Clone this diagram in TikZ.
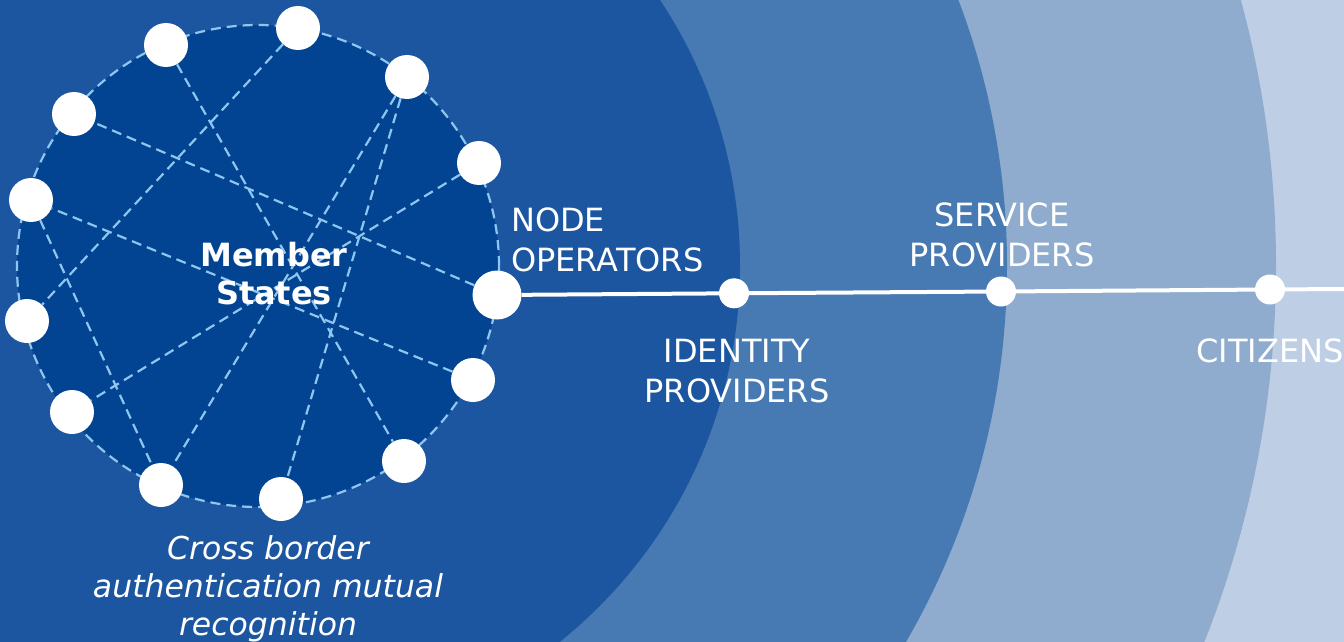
\documentclass[tikz,border=0pt]{standalone}
\usepackage{fontspec}
\setmainfont{DejaVu Sans}
\definecolor{bandA}{HTML}{1C56A0}
\definecolor{bandB}{HTML}{4779B2}
\definecolor{bandC}{HTML}{8FACCF}
\definecolor{bandD}{HTML}{BECEE4}
\definecolor{msfill}{HTML}{024491}
\definecolor{dashblue}{HTML}{8EC6F0}
\begin{document}
\begin{tikzpicture}[x=1pt,y=-1pt,
  ringdot/.style={circle,fill=white,inner sep=0pt,minimum size=44pt},
  bigdot/.style={circle,fill=white,inner sep=0pt,minimum size=49pt},
  linedot/.style={circle,fill=white,inner sep=0pt,minimum size=30pt},
  chord/.style={draw=dashblue,line width=2.2pt,dash pattern=on 10pt off 6pt},
  wline/.style={draw=white,line width=4pt},
  lbl/.style={text=white,inner sep=0pt,align=center,font=\fontsize{32}{39.5}\selectfont},
  lblleft/.style={lbl,align=left,anchor=north west},
  boldlbl/.style={lbl,font=\fontsize{32}{38}\selectfont\bfseries},
  itlbl/.style={lbl,font=\fontsize{31.5}{38}\selectfont\itshape}
]
\useasboundingbox (0,0) rectangle (1344,642);
% background bands
\begin{scope}
  \clip (0,0) rectangle (1344,642);
  \fill[bandD] (0,0) rectangle (1344,642);
  \fill[bandC] (258,266) circle[radius=1018pt];
  \fill[bandB] (258,266) circle[radius=749pt];
  \fill[bandA] (258,266) circle[radius=482pt];
\end{scope}
% member states circle
\fill[msfill] (258,266) circle[radius=241pt];
\draw[chord] (258,266) circle[radius=241pt];
% ring nodes
\node[ringdot] (n1) at (166,45) {};
\node[ringdot] (n2) at (298,28) {};
\node[ringdot] (n3) at (407,77) {};
\node[ringdot] (n4) at (479,163) {};
\node[bigdot]  (n5) at (497,295) {};
\node[ringdot] (n6) at (473,380) {};
\node[ringdot] (n7) at (404,461) {};
\node[ringdot] (n8) at (281,499) {};
\node[ringdot] (n9) at (161,485) {};
\node[ringdot] (n10) at (72,412) {};
\node[ringdot] (n11) at (27,321) {};
\node[ringdot] (n12) at (31,200) {};
\node[ringdot] (n13) at (74,114) {};
% chords
\draw[chord] (n1) -- (n7);
\draw[chord] (n2) -- (n11);
\draw[chord] (n3) -- (n9);
\draw[chord] (n3) -- (n8);
\draw[chord] (n4) -- (n10);
\draw[chord] (n5) -- (n13);
\draw[chord] (n6) -- (n12);
\draw[chord] (n12) -- (n9);
% chain line
\node[linedot] (idp) at (734,293.3) {};
\node[linedot] (sp) at (1001,291.5) {};
\node[linedot] (cit) at (1270,289.5) {};
\coordinate (rend) at (1344,289);
\draw[wline] (n5) -- (idp) -- (sp) -- (cit) -- (rend);
% labels
\node[boldlbl,anchor=north] (mslbl) at (274,242) {Member\\States};
\node[lblleft] (nolbl) at (511,208) {NODE\\OPERATORS};
\node[lbl,anchor=north] (idlbl) at (737,339) {IDENTITY\\PROVIDERS};
\node[lbl,anchor=north] (splbl) at (1002,203) {SERVICE\\PROVIDERS};
\node[lbl,anchor=north] (citlbl) at (1270,339) {CITIZENS};
\node[itlbl,anchor=north] (cblbl) at (268,535) {Cross border\\authentication mutual\\recognition};
\end{tikzpicture}
\end{document}
